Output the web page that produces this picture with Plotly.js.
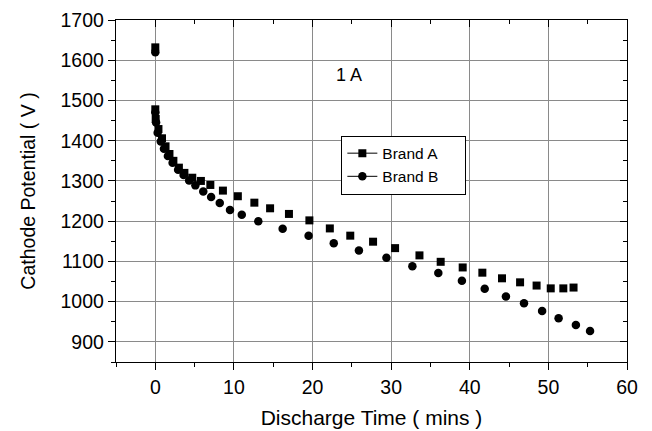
<!DOCTYPE html>
<html>
<head>
<meta charset="utf-8">
<script src="https://cdn.plot.ly/plotly-3.0.1.min.js"></script>
<style>html,body{margin:0;padding:0;background:#fff;}#chart{width:652px;height:431px;}</style>
</head>
<body>
<div id="chart"></div>
<script>
var timeA = [0, 0, 0.05, 0.4, 0.85, 1.3, 1.8, 2.3, 3.0, 3.7, 4.7, 5.8, 7.0, 8.6, 10.5, 12.6, 14.6, 17.0, 19.6, 22.2, 24.8, 27.7, 30.5, 33.6, 36.3, 39.1, 41.6, 44.1, 46.4, 48.5, 50.3, 51.9, 53.2];
var potentialA = [1632, 1478, 1454, 1429, 1406, 1386, 1367, 1350, 1333, 1320, 1308, 1300, 1290, 1276, 1262, 1246, 1232, 1218, 1202, 1182, 1164, 1149, 1133, 1115, 1099, 1085, 1072, 1058, 1048, 1040, 1033, 1033, 1035];
var timeB = [0, 0, 0.1, 0.3, 0.7, 1.1, 1.6, 2.2, 2.9, 3.6, 4.3, 5.1, 6.1, 7.1, 8.2, 9.5, 11.0, 13.1, 16.2, 19.5, 22.7, 25.9, 29.4, 32.7, 36.0, 39.0, 41.9, 44.6, 46.9, 49.2, 51.3, 53.5, 55.3];
var potentialB = [1620, 1470, 1445, 1420, 1398, 1380, 1362, 1345, 1328, 1315, 1301, 1289, 1274, 1260, 1245, 1228, 1216, 1200, 1181, 1164, 1145, 1127, 1109, 1088, 1071, 1052, 1032, 1013, 996, 977, 959, 942, 927];
var seriesNames = ["Brand A", "Brand B"];
var xTitle = "Discharge Time ( mins )";
var yTitle = "Cathode Potential ( V )";
var note = "1 A";

var font = "Liberation Sans, Arial, sans-serif";
var pad = "\u00a0\u00a0\u00a0\u00a0\u00a0";
var data = [
  {x: timeA, y: potentialA, mode: "markers", type: "scatter", showlegend: false,
   marker: {symbol: "square", size: 8, color: "#000"}},
  {x: timeB, y: potentialB, mode: "markers", type: "scatter", showlegend: false,
   marker: {symbol: "circle", size: 8.5, color: "#000"}},
  {x: [null], y: [null], mode: "lines+markers", type: "scatter", name: seriesNames[0] + pad,
   line: {color: "#000", width: 1}, marker: {symbol: "square", size: 8, color: "#000"}},
  {x: [null], y: [null], mode: "lines+markers", type: "scatter", name: seriesNames[1] + pad,
   line: {color: "#000", width: 1}, marker: {symbol: "circle", size: 8.5, color: "#000"}},
  {x: [null], y: [null], xaxis: "x2", yaxis: "y2", mode: "markers", showlegend: false, hoverinfo: "skip"}
];
var layout = {
  width: 652, height: 431,
  margin: {l: 116, r: 25, t: 20, b: 69},
  paper_bgcolor: "#fff", plot_bgcolor: "#fff",
  font: {family: font, color: "#000", size: 15},
  showlegend: true,
  legend: {x: 0.441, y: 0.662, xanchor: "left", yanchor: "top",
    bordercolor: "#000", borderwidth: 1, bgcolor: "#fff",
    font: {family: font, size: 15.5, color: "#000"}, tracegroupgap: 2},
  xaxis: {range: [-5, 60], tick0: 0, dtick: 10, ticks: "outside", ticklen: 7, tickcolor: "#000",
    showline: true, linecolor: "#000", linewidth: 1.2, showgrid: true, gridcolor: "#8a8a8a", gridwidth: 1,
    zeroline: false, tickfont: {size: 19.5},
    minor: {dtick: 5, tick0: 0, ticks: "outside", ticklen: 4, tickcolor: "#000", showgrid: false},
    title: {text: xTitle, font: {size: 21}, standoff: 13}},
  yaxis: {range: [850, 1700], tick0: 900, dtick: 100, ticks: "outside", ticklen: 7, tickcolor: "#000",
    showline: true, linecolor: "#000", linewidth: 1.2, showgrid: true, gridcolor: "#8a8a8a", gridwidth: 1,
    zeroline: false, tickfont: {size: 19.5},
    minor: {dtick: 50, tick0: 850, ticks: "outside", ticklen: 4, tickcolor: "#000", showgrid: false},
    title: {text: yTitle, font: {size: 19.5}, standoff: 19}},
  xaxis2: {range: [-5, 60], overlaying: "x", side: "top", anchor: "y", tick0: 0, dtick: 10,
    ticks: "inside", ticklen: 7, tickcolor: "#000", showticklabels: false, showgrid: false, zeroline: false,
    showline: true, linecolor: "#000", linewidth: 1.2,
    minor: {dtick: 5, tick0: 0, ticks: "inside", ticklen: 4, tickcolor: "#000", showgrid: false}},
  yaxis2: {range: [850, 1700], overlaying: "y", side: "right", anchor: "x", tick0: 900, dtick: 100,
    ticks: "inside", ticklen: 7, tickcolor: "#000", showticklabels: false, showgrid: false, zeroline: false,
    showline: true, linecolor: "#000", linewidth: 1.2,
    minor: {dtick: 50, tick0: 850, ticks: "inside", ticklen: 4, tickcolor: "#000", showgrid: false}},
  annotations: [{text: note, x: 24.6, y: 1563, xref: "x", yref: "y", showarrow: false,
    font: {family: font, size: 18, color: "#000"}}]
};
Plotly.newPlot("chart", data, layout, {displayModeBar: false, staticPlot: true});
</script>
</body>
</html>
